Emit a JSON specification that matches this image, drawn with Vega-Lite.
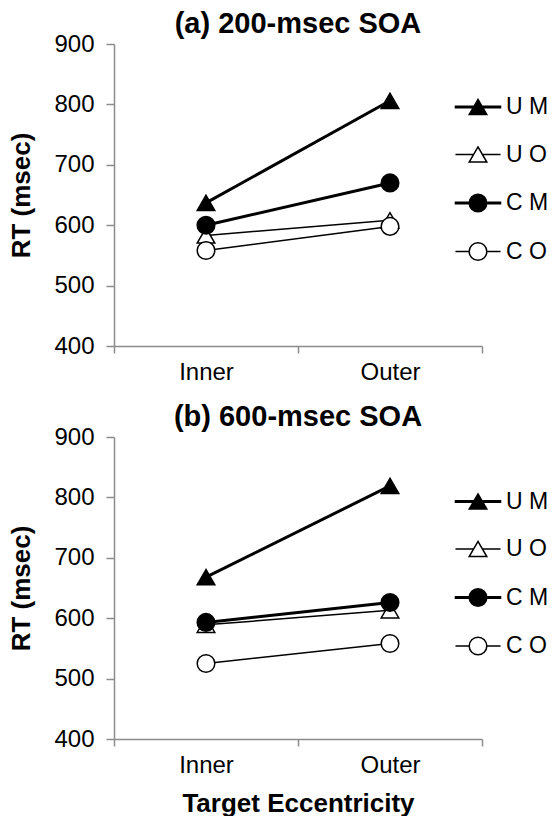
{
  "$schema": "https://vega.github.io/schema/vega-lite/v6.json",
  "background": "white",
  "padding": {"left": 8, "top": 10, "right": 0, "bottom": 0},
  "datasets": {
    "rt": [
      {"panel": "a", "series": "U M", "ecc": "Inner", "rt": 637},
      {"panel": "a", "series": "U M", "ecc": "Outer", "rt": 806},
      {"panel": "a", "series": "U O", "ecc": "Inner", "rt": 583},
      {"panel": "a", "series": "U O", "ecc": "Outer", "rt": 608},
      {"panel": "a", "series": "C M", "ecc": "Inner", "rt": 600},
      {"panel": "a", "series": "C M", "ecc": "Outer", "rt": 670},
      {"panel": "a", "series": "C O", "ecc": "Inner", "rt": 558},
      {"panel": "a", "series": "C O", "ecc": "Outer", "rt": 598},
      {"panel": "b", "series": "U M", "ecc": "Inner", "rt": 668},
      {"panel": "b", "series": "U M", "ecc": "Outer", "rt": 819},
      {"panel": "b", "series": "U O", "ecc": "Inner", "rt": 589},
      {"panel": "b", "series": "U O", "ecc": "Outer", "rt": 613},
      {"panel": "b", "series": "C M", "ecc": "Inner", "rt": 593},
      {"panel": "b", "series": "C M", "ecc": "Outer", "rt": 626},
      {"panel": "b", "series": "C O", "ecc": "Inner", "rt": 525},
      {"panel": "b", "series": "C O", "ecc": "Outer", "rt": 558}
    ]
  },
  "spacing": 19,
  "resolve": {
    "scale": {"shape": "independent", "fill": "independent", "stroke": "independent"},
    "legend": {"shape": "independent", "fill": "independent", "stroke": "independent"}
  },
  "vconcat": [
    {
      "title": {"text": "(a) 200-msec SOA"},
      "width": 368,
      "height": 302,
      "data": {"name": "rt"},
      "transform": [{"filter": "datum.panel === 'a'"}],
      "encoding": {
        "x": {
          "field": "ecc", "type": "nominal", "sort": ["Inner", "Outer"],
          "scale": {"type": "band", "paddingInner": 0, "paddingOuter": 0},
          "axis": {"title": null, "tickBand": "extent", "labelAngle": 0, "tickSize": 7, "labelPadding": 7}
        },
        "y": {
          "field": "rt", "type": "quantitative",
          "scale": {"domain": [400, 900], "nice": false, "zero": false},
          "axis": {"values": [400, 500, 600, 700, 800, 900], "title": "RT (msec)", "tickSize": 8, "labelPadding": 12, "titlePadding": 19}
        }
      },
      "layer": [
        {
          "transform": [{"filter": "indexof(datum.series, 'M') >= 0"}],
          "mark": {"type": "line", "color": "black", "strokeWidth": 3},
          "encoding": {"detail": {"field": "series", "type": "nominal"}}
        },
        {
          "transform": [{"filter": "indexof(datum.series, 'O') >= 0"}],
          "mark": {"type": "line", "color": "black", "strokeWidth": 1.5},
          "encoding": {"detail": {"field": "series", "type": "nominal"}}
        },
        {
          "mark": {"type": "point", "filled": true, "size": 310, "stroke": "black", "strokeWidth": 1.5, "opacity": 1},
          "encoding": {
            "shape": {"condition": {"test": "indexof(datum.series, 'U') >= 0", "value": "triangle-up"}, "value": "circle"},
            "fill": {"condition": {"test": "indexof(datum.series, 'M') >= 0", "value": "black"}, "value": "white"}
          }
        },
        {
          "transform": [{"filter": "false"}],
          "mark": {"type": "point", "filled": true, "size": 310, "strokeWidth": 1.5, "opacity": 1},
          "encoding": {
            "shape": {
              "field": "series", "type": "nominal",
              "scale": {"domain": ["U M", "U O", "C M", "C O"], "range": [
                "M-2.56,-0.085H2.56V0.085H-2.56ZM0,-0.866L1,0.866L-1,0.866Z",
                "M-2.56,0H-0.5M0.5,0H2.56M0,-0.866L1,0.866L-1,0.866Z",
                "M-2.56,-0.085H2.56V0.085H-2.56ZM1,0C1,0.5523,0.5523,1,0,1C-0.5523,1,-1,0.5523,-1,0C-1,-0.5523,-0.5523,-1,0,-1C0.5523,-1,1,-0.5523,1,0Z",
                "M-2.56,0H-1M1,0H2.56M1,0C1,0.5523,0.5523,1,0,1C-0.5523,1,-1,0.5523,-1,0C-1,-0.5523,-0.5523,-1,0,-1C0.5523,-1,1,-0.5523,1,0Z"
              ]},
              "legend": {"orient": "none", "legendX": 352.5, "legendY": 51.5, "title": null, "padding": 0, "symbolSize": 310, "symbolOffset": 0, "labelOffset": 16.5, "rowPadding": 23.5, "symbolStrokeWidth": 1.5, "labelFont": "Liberation Sans", "labelFontSize": 23, "labelColor": "black"}
            },
            "fill": {
              "field": "series", "type": "nominal",
              "scale": {"domain": ["U M", "U O", "C M", "C O"], "range": ["black", "white", "black", "white"]},
              "legend": {"orient": "none", "legendX": 352.5, "legendY": 51.5, "title": null, "padding": 0, "symbolSize": 310, "symbolOffset": 0, "labelOffset": 16.5, "rowPadding": 23.5, "symbolStrokeWidth": 1.5, "labelFont": "Liberation Sans", "labelFontSize": 23, "labelColor": "black"}
            },
            "stroke": {
              "field": "series", "type": "nominal",
              "scale": {"domain": ["U M", "U O", "C M", "C O"], "range": ["black", "black", "black", "black"]},
              "legend": {"orient": "none", "legendX": 352.5, "legendY": 51.5, "title": null, "padding": 0, "symbolSize": 310, "symbolOffset": 0, "labelOffset": 16.5, "rowPadding": 23.5, "symbolStrokeWidth": 1.5, "labelFont": "Liberation Sans", "labelFontSize": 23, "labelColor": "black"}
            }
          }
        }
      ]
    },
    {
      "title": {"text": "(b) 600-msec SOA"},
      "width": 368,
      "height": 302,
      "data": {"name": "rt"},
      "transform": [{"filter": "datum.panel === 'b'"}],
      "encoding": {
        "x": {
          "field": "ecc", "type": "nominal", "sort": ["Inner", "Outer"],
          "scale": {"type": "band", "paddingInner": 0, "paddingOuter": 0},
          "axis": {"title": "Target Eccentricity", "tickBand": "extent", "labelAngle": 0, "tickSize": 7, "labelPadding": 7, "titlePadding": 13}
        },
        "y": {
          "field": "rt", "type": "quantitative",
          "scale": {"domain": [400, 900], "nice": false, "zero": false},
          "axis": {"values": [400, 500, 600, 700, 800, 900], "title": "RT (msec)", "tickSize": 8, "labelPadding": 12, "titlePadding": 19}
        }
      },
      "layer": [
        {
          "transform": [{"filter": "indexof(datum.series, 'M') >= 0"}],
          "mark": {"type": "line", "color": "black", "strokeWidth": 3},
          "encoding": {"detail": {"field": "series", "type": "nominal"}}
        },
        {
          "transform": [{"filter": "indexof(datum.series, 'O') >= 0"}],
          "mark": {"type": "line", "color": "black", "strokeWidth": 1.5},
          "encoding": {"detail": {"field": "series", "type": "nominal"}}
        },
        {
          "mark": {"type": "point", "filled": true, "size": 310, "stroke": "black", "strokeWidth": 1.5, "opacity": 1},
          "encoding": {
            "shape": {"condition": {"test": "indexof(datum.series, 'U') >= 0", "value": "triangle-up"}, "value": "circle"},
            "fill": {"condition": {"test": "indexof(datum.series, 'M') >= 0", "value": "black"}, "value": "white"}
          }
        },
        {
          "transform": [{"filter": "false"}],
          "mark": {"type": "point", "filled": true, "size": 310, "strokeWidth": 1.5, "opacity": 1},
          "encoding": {
            "shape": {
              "field": "series", "type": "nominal",
              "scale": {"domain": ["U M", "U O", "C M", "C O"], "range": [
                "M-2.56,-0.085H2.56V0.085H-2.56ZM0,-0.866L1,0.866L-1,0.866Z",
                "M-2.56,0H-0.5M0.5,0H2.56M0,-0.866L1,0.866L-1,0.866Z",
                "M-2.56,-0.085H2.56V0.085H-2.56ZM1,0C1,0.5523,0.5523,1,0,1C-0.5523,1,-1,0.5523,-1,0C-1,-0.5523,-0.5523,-1,0,-1C0.5523,-1,1,-0.5523,1,0Z",
                "M-2.56,0H-1M1,0H2.56M1,0C1,0.5523,0.5523,1,0,1C-0.5523,1,-1,0.5523,-1,0C-1,-0.5523,-0.5523,-1,0,-1C0.5523,-1,1,-0.5523,1,0Z"
              ]},
              "legend": {"orient": "none", "legendX": 352.5, "legendY": 53, "title": null, "padding": 0, "symbolSize": 310, "symbolOffset": 0, "labelOffset": 16.5, "rowPadding": 23.5, "symbolStrokeWidth": 1.5, "labelFont": "Liberation Sans", "labelFontSize": 23, "labelColor": "black"}
            },
            "fill": {
              "field": "series", "type": "nominal",
              "scale": {"domain": ["U M", "U O", "C M", "C O"], "range": ["black", "white", "black", "white"]},
              "legend": {"orient": "none", "legendX": 352.5, "legendY": 53, "title": null, "padding": 0, "symbolSize": 310, "symbolOffset": 0, "labelOffset": 16.5, "rowPadding": 23.5, "symbolStrokeWidth": 1.5, "labelFont": "Liberation Sans", "labelFontSize": 23, "labelColor": "black"}
            },
            "stroke": {
              "field": "series", "type": "nominal",
              "scale": {"domain": ["U M", "U O", "C M", "C O"], "range": ["black", "black", "black", "black"]},
              "legend": {"orient": "none", "legendX": 352.5, "legendY": 53, "title": null, "padding": 0, "symbolSize": 310, "symbolOffset": 0, "labelOffset": 16.5, "rowPadding": 23.5, "symbolStrokeWidth": 1.5, "labelFont": "Liberation Sans", "labelFontSize": 23, "labelColor": "black"}
            }
          }
        }
      ]
    }
  ],
  "config": {
    "view": {"stroke": null},
    "title": {"font": "Liberation Sans", "fontSize": 29, "fontWeight": "bold", "color": "black", "anchor": "middle", "offset": -7},
    "axis": {
      "grid": false,
      "domainColor": "#8c8c8c", "domainWidth": 1.5,
      "tickColor": "#8c8c8c", "tickWidth": 1.5,
      "labelFont": "Liberation Sans", "labelFontSize": 24, "labelColor": "black",
      "titleFont": "Liberation Sans", "titleFontSize": 26, "titleFontWeight": "bold", "titleColor": "black"
    }
  }
}
